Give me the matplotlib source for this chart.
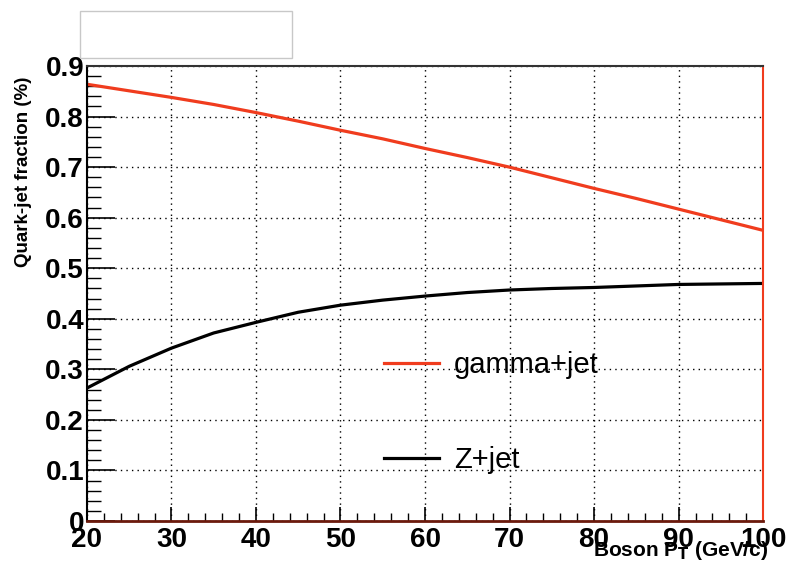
import matplotlib.pyplot as plt
from matplotlib.patches import Rectangle
from matplotlib.ticker import MultipleLocator

plt.rcParams['font.family'] = ['Liberation Sans', 'DejaVu Sans']

# boson pT (GeV/c)
pt = [20, 25, 30, 35, 40, 45, 50, 55, 60, 65, 70, 75, 80, 85, 90, 95, 100]
# quark-jet fraction
gamma_jet = [0.864, 0.851, 0.838, 0.824, 0.808, 0.791, 0.773, 0.756, 0.737, 0.719, 0.700, 0.679, 0.658, 0.638, 0.617, 0.596, 0.575]
z_jet = [0.263, 0.306, 0.342, 0.372, 0.393, 0.413, 0.427, 0.437, 0.445, 0.452, 0.457, 0.460, 0.462, 0.465, 0.468, 0.469, 0.470]

red = '#f03c1e'

fig = plt.figure(figsize=(7.9, 5.68), dpi=100)
ax = fig.add_axes([0.110, 0.0827, 0.856, 0.801])

ax.plot(pt, gamma_jet, color=red, lw=2.3, label='gamma+jet')
ax.plot(pt, z_jet, color='black', lw=2.3, label='Z+jet')

ax.set_xlim(20, 100)
ax.set_ylim(0, 0.9)
ax.xaxis.set_major_locator(MultipleLocator(10))
ax.xaxis.set_minor_locator(MultipleLocator(2))
ax.yaxis.set_major_locator(MultipleLocator(0.1))
ax.yaxis.set_minor_locator(MultipleLocator(0.02))
ax.set_yticks([0, 0.1, 0.2, 0.3, 0.4, 0.5, 0.6, 0.7, 0.8, 0.9])
ax.set_yticklabels(['0', '0.1', '0.2', '0.3', '0.4', '0.5', '0.6', '0.7', '0.8', '0.9'])
ax.tick_params(which='major', direction='in', length=20, width=1.2, labelsize=20, pad=2)
ax.tick_params(axis='x', which='major', length=10, pad=4)
ax.tick_params(which='minor', direction='in', length=10, width=1)
ax.tick_params(axis='x', which='minor', length=6)
for lab in ax.get_xticklabels() + ax.get_yticklabels():
    lab.set_fontweight('bold')

ax.grid(True, which='major', color='black', linestyle=(0, (1, 3)), lw=1)

ax.spines['left'].set_linewidth(1.5)
ax.spines['top'].set_color('#333333')
ax.spines['top'].set_linewidth(1.5)
ax.spines['right'].set_color(red)
ax.spines['right'].set_linewidth(1.5)
ax.spines['bottom'].set_color('#6b1a0c')
ax.spines['bottom'].set_linewidth(2)

ax.legend(loc='center left', bbox_to_anchor=(0.40, 0.239), frameon=False,
          fontsize=21, handlelength=1.9, handletextpad=0.5, labelspacing=2.3)

fig.text(0.030, 0.697, 'Quark-jet fraction (%)', rotation=90, ha='center', va='center',
         fontsize=13.5, fontweight='bold')
fig.text(0.972, 0.030, 'Boson P$_{\\mathbf{T}}$ (GeV/c)', ha='right', va='center',
         fontsize=15, fontweight='bold')

fig.patches.append(Rectangle((0.101, 0.898), 0.269, 0.083, transform=fig.transFigure,
                             facecolor='white', edgecolor='#c8c8c8', lw=1))

fig.savefig('out.png', dpi=100)
